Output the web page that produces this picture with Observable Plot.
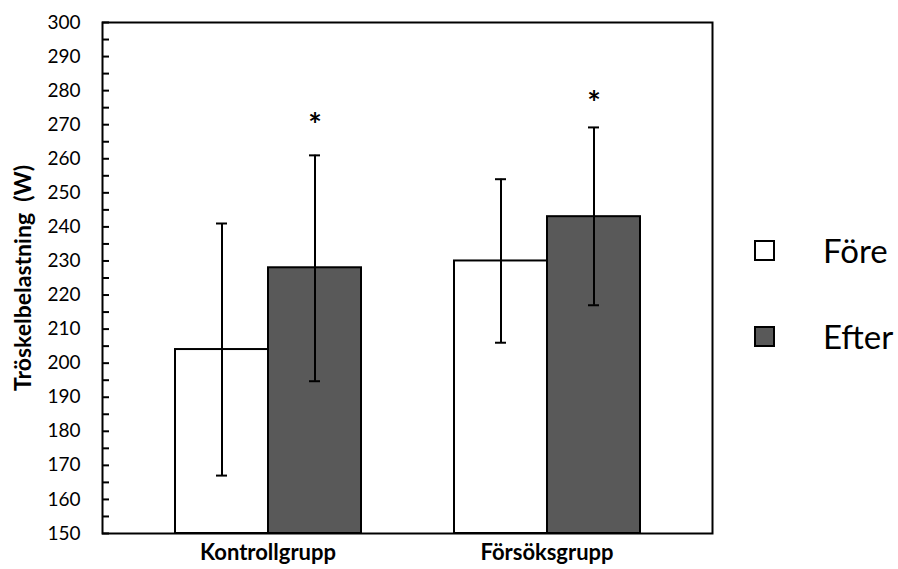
<!DOCTYPE html>
<html>
<head>
<meta charset="utf-8">
<script src="https://cdn.jsdelivr.net/npm/d3@7"></script>
<script src="https://cdn.jsdelivr.net/npm/@observablehq/plot@0.6"></script>
<style>
  html, body { margin: 0; padding: 0; background: #fff; }
  #wrap { position: relative; width: 898px; height: 569px; font-family: Lato, "Open Sans", sans-serif; }
  #legend { position: absolute; left: 754px; top: 228px; }
  .item { display: flex; align-items: center; height: 44px; margin-bottom: 42px; }
  .sw { width: 17px; height: 17px; border: 2px solid #000; box-sizing: content-box; }
  .lbl { margin-left: 48px; font-size: 33px; color: #000; }
</style>
</head>
<body>
<div id="wrap"></div>
<script>
// ---- data ----
const groups = ["Kontrollgrupp", "Försöksgrupp"];
const series = ["Före", "Efter"];
const seriesColors = ["#ffffff", "#595959"];
const means = [[204, 228], [230, 243]];        // [group][series]
const errLow = [[167, 194.7], [206, 217]];
const errHigh = [[241, 261], [254, 269.2]];
const starGroups = ["Kontrollgrupp", "Försöksgrupp"];
const starValues = [272, 278.5];
const yTicks = d3.range(150, 301, 10);
const yMinorTicks = d3.range(155, 300, 10);
const yTitle = "Tröskelbelastning  (W)";

// ---- build table ----
const rows = [];
groups.forEach((g, gi) => series.forEach((s, si) => rows.push({
  group: g, series: s, key: g + "|" + s,
  value: means[gi][si], lo: errLow[gi][si], hi: errHigh[gi][si]
})));
const slots = [groups[0] + "|" + series[0], groups[0] + "|" + series[1], "gap",
               groups[1] + "|" + series[0], groups[1] + "|" + series[1]];
const stars = starGroups.map((g, i) => ({key: g + "|" + series[1], v: starValues[i]}));

const W = 898, H = 569, mL = 102, mR = 186, mT = 22, mB = 36;
const xOpts = {type: "band", domain: slots, paddingInner: 0, paddingOuter: 0.745, range: [mL, W - mR]};
const xs = Plot.scale({x: xOpts});
const bw = xs.bandwidth;
const capInset = (bw - 12) / 2;
const yMin = yTicks[0], yMax = yTicks[yTicks.length - 1];

const chart = Plot.plot({
  width: W, height: H,
  marginLeft: mL, marginRight: mR, marginTop: mT, marginBottom: mB,
  style: {fontFamily: "Lato, 'Open Sans', sans-serif", color: "#000", background: "#fff"},
  x: {...xOpts, axis: null, range: undefined},
  y: {domain: [yMin, yMax], axis: null},
  color: {domain: series, range: seriesColors},
  marks: [
    Plot.barY(rows, {x: "key", y1: yMin, y2: "value", fill: "series", stroke: "#000", strokeWidth: 2,
      style: "filter: drop-shadow(2px 1px 1.5px rgba(0,0,0,0.25))"}),
    Plot.ruleX(rows, {x: "key", y1: "lo", y2: "hi", stroke: "#000", strokeWidth: 2}),
    Plot.tickY(rows, {x: "key", y: "hi", stroke: "#000", strokeWidth: 2, inset: capInset}),
    Plot.tickY(rows, {x: "key", y: "lo", stroke: "#000", strokeWidth: 2, inset: capInset}),
    Plot.text(stars, {x: "key", y: "v", text: () => "*", fontSize: 32, fontWeight: "bold", fill: "#000", dy: 9}),
    Plot.axisY({ticks: yTicks, tickSize: -7, strokeWidth: 2, text: null, label: null}),
    Plot.axisY({ticks: yMinorTicks, tickSize: -7, strokeWidth: 2, text: null, label: null}),
    Plot.axisY({ticks: yTicks, tickSize: 0, tickPadding: 22, fontSize: 19, label: yTitle,
      labelAnchor: "center", labelArrow: "none", labelOffset: 88}),
    Plot.axisX({ticks: [slots[1], slots[4]], tickSize: 0, tickPadding: 11, dx: -bw / 2,
      tickFormat: d => d.split("|")[0], fontSize: 22, fontWeight: "bold", label: null}),
    Plot.frame({stroke: "#000", strokeWidth: 2})
  ]
});
document.getElementById("wrap").appendChild(chart);

// y title bold & larger
chart.querySelectorAll("text").forEach(t => {
  if (t.textContent.trim().startsWith("Tröskel")) {
    t.setAttribute("font-weight", "bold");
    t.setAttribute("font-size", "23");
    t.style.fontSize = "23px";
    t.style.fontWeight = "bold";
  }
});

// legend
const lg = document.createElement("div");
lg.id = "legend";
series.forEach((s, i) => {
  const it = document.createElement("div"); it.className = "item";
  const sw = document.createElement("div"); sw.className = "sw"; sw.style.background = seriesColors[i];
  const tx = document.createElement("span"); tx.className = "lbl"; tx.textContent = s;
  it.appendChild(sw); it.appendChild(tx); lg.appendChild(it);
});
document.getElementById("wrap").appendChild(lg);
</script>
</body>
</html>
